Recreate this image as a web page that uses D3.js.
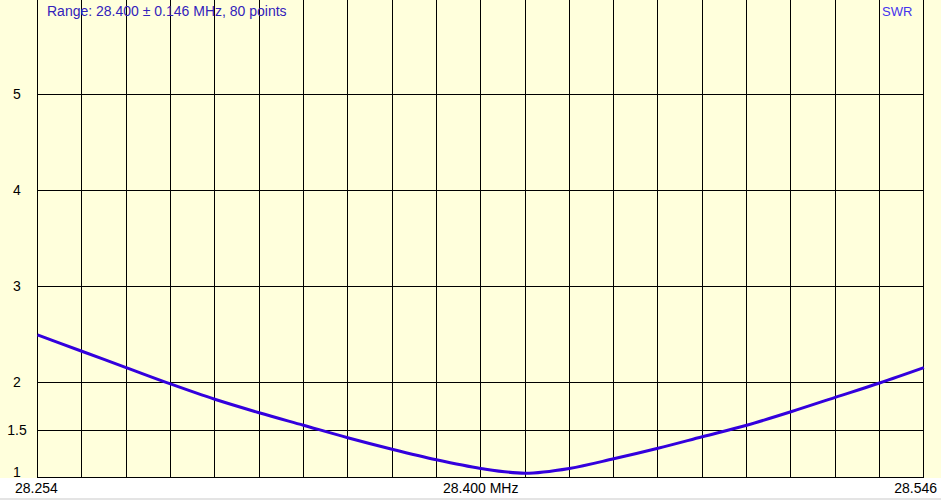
<!DOCTYPE html>
<html>
<head>
<meta charset="utf-8">
<script src="https://cdn.jsdelivr.net/npm/d3@7"></script>
<style>
  body { margin: 0; background: #fff; }
  text { font-family: "Liberation Sans", Arial, sans-serif; }
</style>
</head>
<body>
<div id="swrGraph"></div>
<script>
// sweep frequencies (MHz) and the SWR read at each one
var freqs = [28.254, 28.2686, 28.2832, 28.2978, 28.3124, 28.327, 28.3416, 28.3562,
             28.3708, 28.3854, 28.400, 28.4146, 28.4292, 28.4438, 28.4584, 28.473,
             28.4876, 28.5022, 28.5168, 28.5314, 28.546];
var swr = [2.49, 2.32, 2.15, 1.98, 1.82, 1.68, 1.55, 1.42,
           1.30, 1.19, 1.10, 1.05, 1.10, 1.20, 1.31, 1.43,
           1.55, 1.69, 1.84, 1.99, 2.15];

var yTicks = [1, 1.5, 2, 3, 4, 5];
var xTickValues = [28.254, 28.400, 28.546];
var xTickLabels = ["28.254", "28.400 MHz", "28.546"];
var titleText = "Range: 28.400 \u00b1 0.146 MHz, 80 points";
var seriesName = "SWR";

// dimensions
var W = 941, H = 500,
    plotLeft = 37, plotRight = 923, plotBottom = 477;

var x = d3.scaleLinear().domain([28.254, 28.546]).range([37.5, 923.9]);
var y = d3.scaleLinear().domain([1, 6]).range([478, -2]);

var svg = d3.select("#swrGraph").append("svg")
    .attr("width", W)
    .attr("height", H);

// backgrounds
svg.append("rect")
    .attr("width", W).attr("height", plotBottom + 1)
    .attr("fill", "#ffffdc");
svg.append("rect")
    .attr("y", plotBottom + 1).attr("width", W).attr("height", 20)
    .attr("fill", "#ffffff");
svg.append("rect")
    .attr("y", 498).attr("width", W).attr("height", 2)
    .attr("fill", "#e4e4e4");

// vertical gridlines, 20 divisions across the sweep
var gridX = d3.range(21).map(function(k) {
    return 28.254 + k * (28.546 - 28.254) / 20;
});

svg.append("g")
    .selectAll("line")
    .data(gridX)
    .enter().append("line")
    .attr("x1", function(d) { return Math.floor(x(d)) + 0.5; })
    .attr("x2", function(d) { return Math.floor(x(d)) + 0.5; })
    .attr("y1", 0)
    .attr("y2", plotBottom + 1)
    .attr("stroke", "#000")
    .attr("stroke-width", 1);

// horizontal gridlines
svg.append("g")
    .selectAll("line")
    .data(yTicks)
    .enter().append("line")
    .attr("x1", plotLeft)
    .attr("x2", plotRight + 1)
    .attr("y1", function(d) { return Math.min(Math.round(y(d)), plotBottom) + 0.5; })
    .attr("y2", function(d) { return Math.min(Math.round(y(d)), plotBottom) + 0.5; })
    .attr("stroke", "#000")
    .attr("stroke-width", 1);

// y labels
svg.append("g")
    .selectAll("text")
    .data(yTicks)
    .enter().append("text")
    .attr("x", 17)
    .attr("y", function(d) { return d === 1 ? plotBottom : Math.round(y(d)) + 5; })
    .attr("text-anchor", "middle")
    .attr("font-size", "14px")
    .attr("fill", "#000")
    .text(function(d) { return d; });

// x labels
svg.append("g")
    .selectAll("text")
    .data(xTickValues)
    .enter().append("text")
    .attr("x", function(d, i) {
        if (i === 0) return 15;
        if (i === xTickValues.length - 1) return 937;
        return x(d);
    })
    .attr("y", 493)
    .attr("text-anchor", function(d, i) {
        if (i === 0) return "start";
        if (i === xTickValues.length - 1) return "end";
        return "middle";
    })
    .attr("font-size", "14px")
    .attr("fill", "#000")
    .text(function(d, i) { return xTickLabels[i]; });

// the SWR curve
var valueline = d3.line()
    .x(function(d, i) { return x(freqs[i]); })
    .y(function(d) { return y(d); })
    .curve(d3.curveMonotoneX);

svg.append("path")
    .datum(swr)
    .attr("d", valueline)
    .attr("fill", "none")
    .attr("stroke", "#3300dd")
    .attr("stroke-width", 3);

// title and series name
svg.append("text")
    .attr("x", 47)
    .attr("y", 16)
    .attr("font-size", "14px")
    .attr("fill", "#3322bb")
    .text(titleText);

svg.append("text")
    .attr("x", 882)
    .attr("y", 16)
    .attr("font-size", "13px")
    .attr("fill", "#4433ee")
    .text(seriesName);
</script>
</body>
</html>
